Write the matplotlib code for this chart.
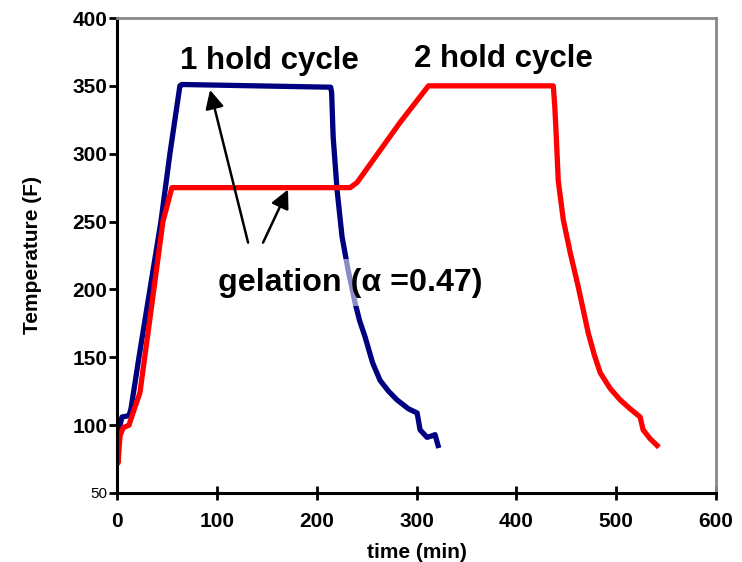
import matplotlib
matplotlib.use("Agg")
import matplotlib.pyplot as plt

plt.rcParams['font.family'] = ['Liberation Sans', 'DejaVu Sans']

# 1 hold cycle (blue)
blue_t = [0, 1, 3, 5, 12, 14, 22, 33, 44, 53, 63, 65, 214, 215, 216.5, 220.4, 225.4,
          231.4, 238.5, 243, 248.5, 256, 263.5, 272, 280.5, 292, 300.6, 303.6, 310.6, 315, 318.6, 321.6]
blue_T = [76, 85, 100, 106, 107, 112, 150, 200, 250, 300, 350, 351, 349, 345, 312.7, 273.6, 239,
          214.6, 190, 177, 165, 146, 133, 125, 118.6, 112, 109, 96.5, 91, 92, 93, 85]

# 2 hold cycle (red)
red_t = [0, 1, 3, 6, 12, 16, 23, 36, 46, 55, 233.5, 240.5, 283.5, 312, 437, 438.5, 440, 442, 447,
         454, 462, 472, 478, 484, 494, 504, 514, 524, 527, 534, 541]
red_T = [80, 72, 92, 98, 100, 109, 124, 195, 250, 275, 275, 278.8, 323, 350, 350, 335, 312.7, 280, 251.5,
         227, 202, 168, 152, 138.6, 127, 118.6, 112, 106, 96.5, 90, 85]

x_ticks = [0, 100, 200, 300, 400, 500, 600]
y_ticks = [50, 100, 150, 200, 250, 300, 350, 400]

fig = plt.figure(figsize=(7.42, 5.62), dpi=100)
ax = fig.add_axes([117/742, 1-493/562, (716-117)/742, (493-18)/562])

ax.plot(blue_t, blue_T, color='#000080', lw=3.8, solid_joinstyle='round')
ax.plot(red_t, red_T, color='#FF0000', lw=3.8, solid_joinstyle='round')

ax.set_xlim(0, 600)
ax.set_ylim(50, 400)
ax.set_xticks(x_ticks)
ax.set_yticks(y_ticks)
ax.set_xticklabels([str(v) for v in x_ticks], fontsize=15, fontweight='bold')
ylabels = ax.set_yticklabels([str(v) for v in y_ticks], fontsize=15, fontweight='bold')
ylabels[0].set_fontsize(11)
ylabels[0].set_fontweight('normal')

ax.tick_params(axis='x', direction='inout', length=10, width=2, pad=9)
ax.tick_params(axis='y', direction='out', length=6, width=2, pad=1)

for s in ['left', 'bottom']:
    ax.spines[s].set_linewidth(2.2)
    ax.spines[s].set_color('black')
for s in ['top', 'right']:
    ax.spines[s].set_linewidth(2)
    ax.spines[s].set_color('#888888')

ax.set_xlabel('time (min)', fontsize=15, fontweight='bold', labelpad=8)
ax.set_ylabel('Temperature (F)', fontsize=15, fontweight='bold', labelpad=22)

ax.text(153, 368, '1 hold cycle', fontsize=22.5, fontweight='bold', ha='center', va='center')
ax.text(387, 369.5, '2 hold cycle', fontsize=22.5, fontweight='bold', ha='center', va='center')
ax.text(101, 205, 'gelation (α =0.47)', fontsize=23.2, fontweight='bold', ha='left', va='center',
        bbox=dict(facecolor='white', alpha=0.55, edgecolor='none', pad=6))

ap = dict(arrowstyle='-|>', color='black', lw=1.8, mutation_scale=28, shrinkA=0, shrinkB=0)
ax.annotate('', xy=(93.2, 347), xytext=(131.3, 234.5), arrowprops=ap)
ax.annotate('', xy=(171.3, 273.6), xytext=(146.3, 234.5), arrowprops=ap)

fig.savefig('out.png', dpi=100)
